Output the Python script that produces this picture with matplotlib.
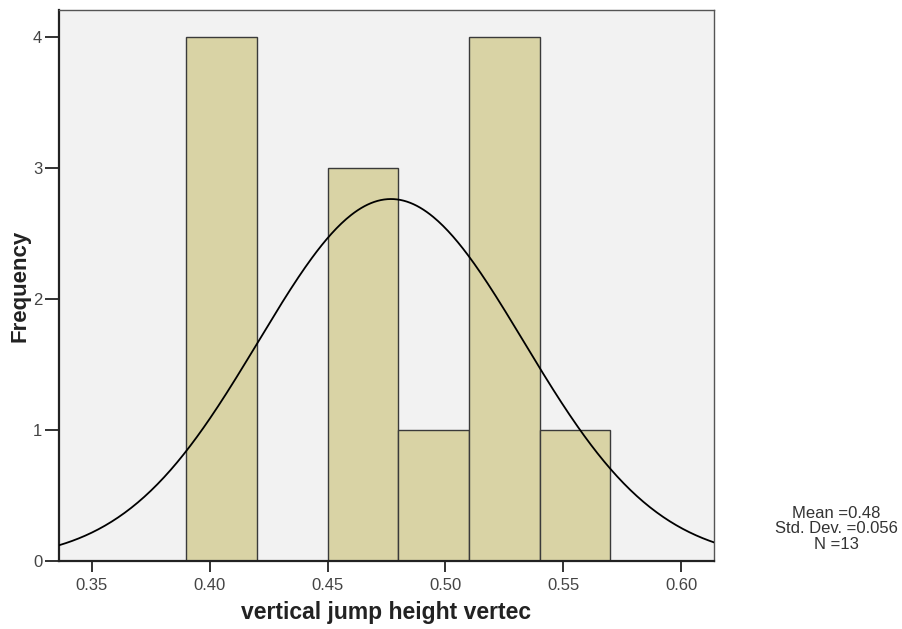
import numpy as np
import matplotlib
matplotlib.use("Agg")
import matplotlib.pyplot as plt

bin_edges = [0.39, 0.42, 0.45, 0.48, 0.51, 0.54, 0.57]
counts = [4, 0, 3, 1, 4, 1]
mean = 0.4769
std = 0.0563
n = 13
xticks = [0.35, 0.40, 0.45, 0.50, 0.55, 0.60]
yticks = [0, 1, 2, 3, 4]

plt.rcParams['font.family'] = ['Liberation Sans', 'DejaVu Sans']

fig = plt.figure(figsize=(9.02, 6.29), dpi=100)
ax = fig.add_axes([0.0654, 0.108, 0.7262, 0.876])
ax.set_facecolor('#f2f2f2')

lefts = bin_edges[:-1]
widths = np.diff(bin_edges)
for l, w, c in zip(lefts, widths, counts):
    if c > 0:
        ax.bar(l, c, width=w, align='edge', color='#d9d3a5', edgecolor='#3a3a3a', linewidth=1.0, zorder=2)

xlim = (0.336, 0.614)
xs = np.linspace(xlim[0], xlim[1], 400)
bw = widths[0]
ys = n * bw / (std * np.sqrt(2 * np.pi)) * np.exp(-0.5 * ((xs - mean) / std) ** 2)
ax.plot(xs, ys, color='black', linewidth=1.3, zorder=3)

ax.set_xlim(*xlim)
ax.set_ylim(0, 4.206)
ax.set_xticks(xticks)
ax.set_xticklabels([f"{t:.2f}" for t in xticks])
ax.set_yticks(yticks)
ax.tick_params(axis='both', direction='out', colors='#222222', labelcolor='#444444', labelsize=12, width=1.3)
ax.tick_params(axis='x', length=8, pad=4)
ax.tick_params(axis='y', length=10, pad=2)
for sp in ['left', 'bottom']:
    ax.spines[sp].set_linewidth(1.6)
    ax.spines[sp].set_color('#222222')
for sp in ['top', 'right']:
    ax.spines[sp].set_linewidth(1.0)
    ax.spines[sp].set_color('#555555')

ax.set_xlabel('vertical jump height vertec', fontsize=16.5, fontweight='bold', color='#222222', va='center')
ax.set_ylabel('Frequency', fontsize=16, fontweight='bold', color='#222222', va='center')
ax.xaxis.set_label_coords(0.5, -0.093)
ax.yaxis.set_label_coords(-0.059, 0.5)

fig.text(0.927, 0.159, f"Mean ={0.48:.2f}\nStd. Dev. ={0.056:.3f}\nN ={n}", ha='center', va='center',
         fontsize=12, color='#333333', linespacing=1.05)

fig.savefig('out.png', dpi=100)
